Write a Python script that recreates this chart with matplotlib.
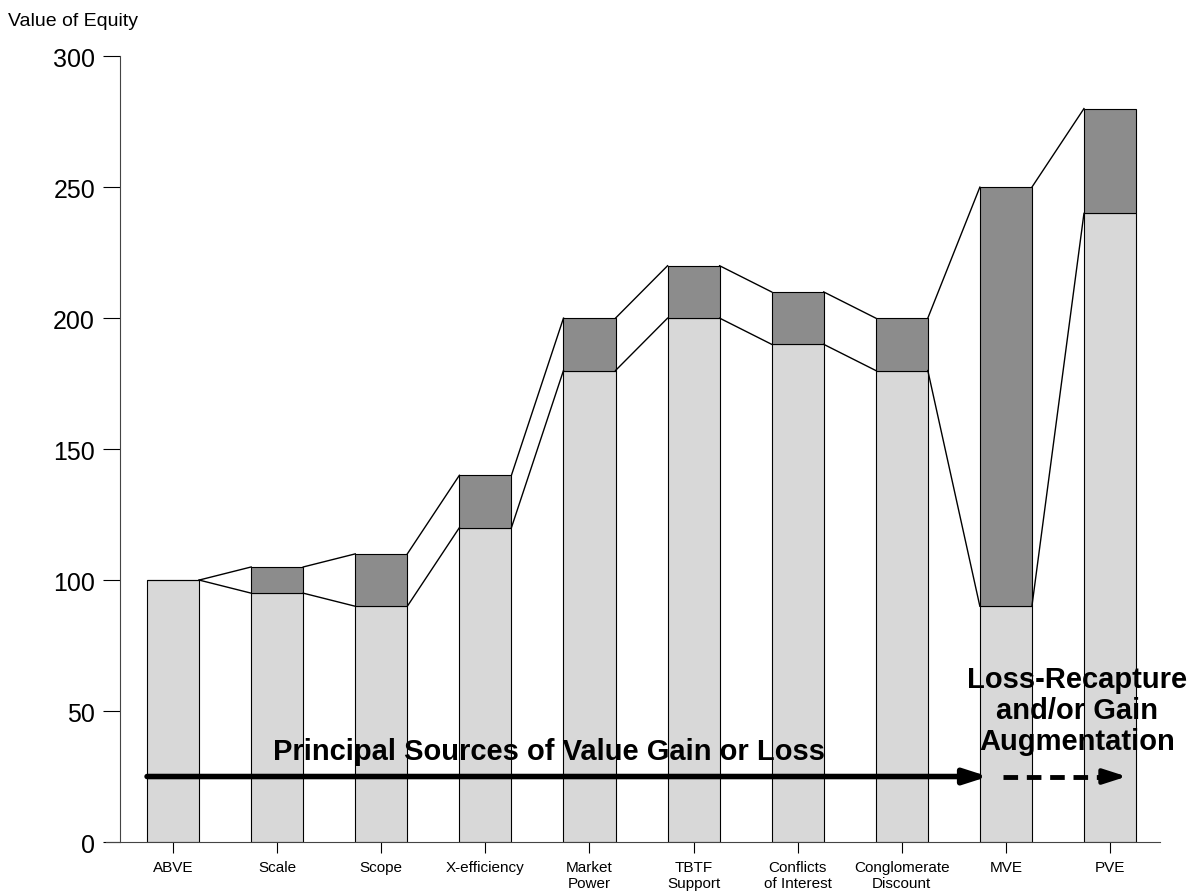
import matplotlib
matplotlib.use("Agg")
import matplotlib.pyplot as plt

categories = ["ABVE", "Scale", "Scope", "X-efficiency", "Market\nPower",
              "TBTF\nSupport", "Conflicts\nof Interest", "Conglomerate\nDiscount",
              "MVE", "PVE"]
# light segment = lower value, dark segment stacked up to the upper value
lower = [100, 95, 90, 120, 180, 200, 190, 180, 90, 240]
upper = [100, 105, 110, 140, 200, 220, 210, 200, 250, 280]
yticks = [0, 50, 100, 150, 200, 250, 300]

LIGHT = "#d8d8d8"
DARK = "#8c8c8c"
WIDTH = 0.5

plt.rcParams["font.family"] = ["Liberation Sans", "DejaVu Sans"]

fig = plt.figure(figsize=(11.93, 8.95), dpi=100)
ax = fig.add_axes([0.0889, 0.0581, 0.8834, 0.878])

x = list(range(len(categories)))
ax.bar(x, lower, width=WIDTH, color=LIGHT, edgecolor="black", linewidth=0.8, zorder=2)
dark = [u - l for u, l in zip(upper, lower)]
ax.bar(x, dark, bottom=lower, width=WIDTH, color=DARK, edgecolor="black",
       linewidth=0.8, zorder=2)

# connectors from each bar's right edge to the next bar's left edge
for i in range(len(x) - 1):
    xs = [x[i] + WIDTH / 2, x[i + 1] - WIDTH / 2]
    ax.plot(xs, [upper[i], upper[i + 1]], color="black", lw=1, zorder=3)
    ax.plot(xs, [lower[i], lower[i + 1]], color="black", lw=1, zorder=3)

ax.set_xlim(-0.644, 9.48)
ax.set_ylim(0, 300)
ax.set_yticks(yticks)
ax.set_xticks(x)
ax.set_xticklabels(categories, fontsize=11, linespacing=1.15, va="top")
ax.tick_params(axis="y", labelsize=18, length=12, width=0.8, pad=6)
ax.tick_params(axis="x", length=8, width=0.8, pad=5)

for s in ("top", "right"):
    ax.spines[s].set_visible(False)
ax.spines["left"].set_position(("data", -0.509))
ax.spines["left"].set_color("#444444")
ax.spines["bottom"].set_color("#444444")

fig.text(0.007, 0.976, "Value of Equity", fontsize=14, ha="left", va="center")

head = "-|>,head_length=1.4,head_width=0.45"
ax.annotate("", xy=(7.83, 25), xytext=(-0.25, 25),
            arrowprops=dict(arrowstyle=head, color="black", lw=4,
                            shrinkA=0, shrinkB=0), zorder=4)
# dashed shaft with a solid head on the right
ax.plot([7.97, 8.98], [25, 25], color="black", lw=3.5,
        linestyle=(0, (3, 1.8)), solid_capstyle="butt", zorder=4)
ax.annotate("", xy=(9.16, 25), xytext=(8.98, 25),
            arrowprops=dict(arrowstyle=head, color="black", lw=3,
                            shrinkA=0, shrinkB=0), zorder=4)

ax.text(3.61, 34.7, "Principal Sources of Value Gain or Loss", fontsize=21,
        fontweight="bold", ha="center", va="center", zorder=5)
ax.text(8.68, 50.4, "Loss-Recapture\nand/or Gain\nAugmentation", fontsize=21,
        fontweight="bold", ha="center", va="center", linespacing=1.15, zorder=5)

fig.savefig("out.png", dpi=100)
